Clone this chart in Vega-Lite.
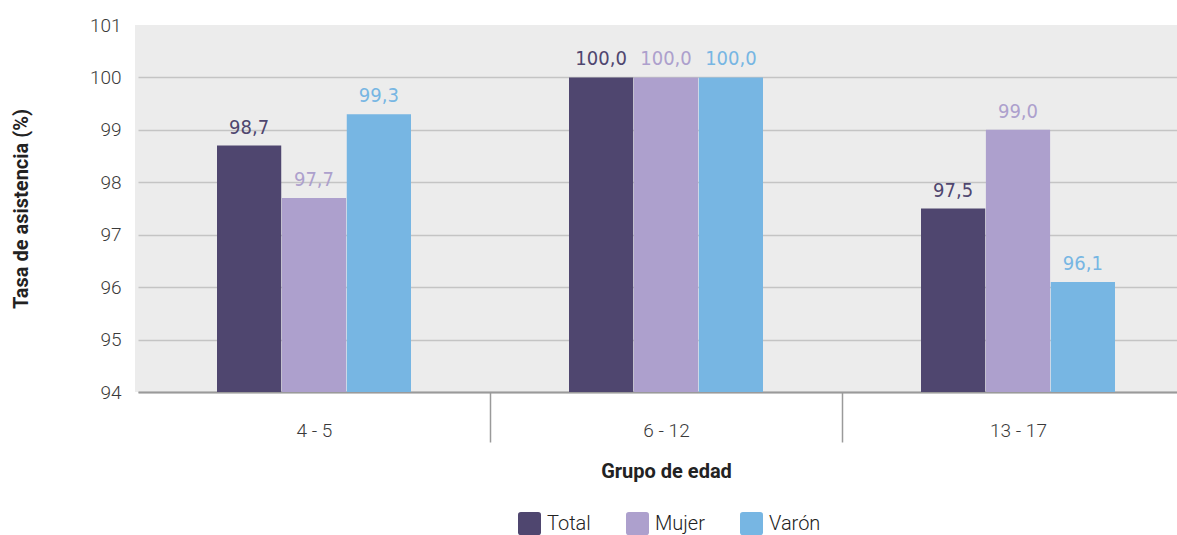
{
  "$schema": "https://vega.github.io/schema/vega-lite/v6.json",
  "width": 1042,
  "height": 367,
  "autosize": "none",
  "padding": {"left": 135, "top": 25, "right": 0, "bottom": 143},
  "background": "white",
  "config": {
    "locale": {"number": {"decimal": ",", "thousands": ".", "grouping": [3], "currency": ["", ""]}},
    "view": {"fill": "#ececec", "stroke": null}
  },
  "data": {
    "values": [
      {"grupo": "4 - 5", "serie": "Total", "valor": 98.7},
      {"grupo": "4 - 5", "serie": "Mujer", "valor": 97.7},
      {"grupo": "4 - 5", "serie": "Varón", "valor": 99.3},
      {"grupo": "6 - 12", "serie": "Total", "valor": 100.0},
      {"grupo": "6 - 12", "serie": "Mujer", "valor": 100.0},
      {"grupo": "6 - 12", "serie": "Varón", "valor": 100.0},
      {"grupo": "13 - 17", "serie": "Total", "valor": 97.5},
      {"grupo": "13 - 17", "serie": "Mujer", "valor": 99.0},
      {"grupo": "13 - 17", "serie": "Varón", "valor": 96.1}
    ]
  },
  "encoding": {
    "x": {
      "field": "grupo",
      "type": "nominal",
      "sort": ["4 - 5", "6 - 12", "13 - 17"],
      "scale": {"range": [3, 1059], "paddingInner": 0, "paddingOuter": 0},
      "axis": {
        "title": "Grupo de edad",
        "titleFont": "Roboto",
        "titleFontWeight": "bold",
        "titleFontSize": 20,
        "titleColor": "#222222",
        "titlePadding": 19,
        "labelAngle": 0,
        "labelFont": "Roboto",
        "labelFontWeight": 300,
        "labelFontSize": 19,
        "labelColor": "#3a3a3a",
        "labelPadding": -21,
        "ticks": true,
        "tickBand": "extent",
        "tickSize": 50,
        "tickColor": "#9a9a9a",
        "tickWidth": 1.5,
        "tickOpacity": {"condition": {"test": "datum.extra", "value": 0}, "value": 1},
        "domainColor": "#9a9a9a",
        "domainWidth": 2,
        "grid": false
      }
    },
    "xOffset": {
      "field": "serie",
      "type": "nominal",
      "sort": ["Total", "Mujer", "Varón"],
      "scale": {"range": [79, 273], "paddingInner": 0.01, "paddingOuter": 0}
    },
    "y": {
      "field": "valor",
      "type": "quantitative",
      "scale": {"domain": [94, 101], "nice": false, "zero": false},
      "axis": {
        "title": "Tasa de asistencia (%)",
        "titleFont": "Roboto",
        "titleFontWeight": "bold",
        "titleFontSize": 20,
        "titleColor": "#222222",
        "titlePadding": 58,
        "values": [94, 95, 96, 97, 98, 99, 100, 101],
        "labelFont": "Roboto",
        "labelFontWeight": 300,
        "labelFontSize": 19,
        "labelColor": "#3a3a3a",
        "labelPadding": 14,
        "ticks": false,
        "domain": false,
        "grid": true,
        "gridColor": "#c4c4c4",
        "gridWidth": 1.5,
        "gridOpacity": {"condition": {"test": "datum.value === 101", "value": 0}, "value": 1}
      }
    },
    "color": {
      "field": "serie",
      "type": "nominal",
      "sort": ["Total", "Mujer", "Varón"],
      "scale": {"domain": ["Total", "Mujer", "Varón"], "range": ["#4f466f", "#ada0cd", "#77b6e3"]},
      "legend": {
        "title": null,
        "orient": "none",
        "direction": "horizontal",
        "legendX": 383,
        "legendY": 487,
        "symbolType": "M-0.75,-1H0.75Q1,-1,1,-0.75V0.75Q1,1,0.75,1H-0.75Q-1,1,-1,0.75V-0.75Q-1,-1,-0.75,-1Z",
        "symbolSize": 529,
        "symbolStrokeWidth": 0,
        "labelFont": "Roboto",
        "labelFontWeight": 300,
        "labelFontSize": 20,
        "labelColor": "#222222",
        "labelOffset": 6,
        "columnPadding": 35
      }
    }
  },
  "layer": [
    {"mark": {"type": "bar", "clip": true}},
    {
      "mark": {"type": "text", "font": "DejaVu Sans Condensed", "fontSize": 20, "baseline": "alphabetic", "dy": -12},
      "encoding": {"text": {"field": "valor", "type": "quantitative", "format": ".1f"}}
    }
  ]
}
